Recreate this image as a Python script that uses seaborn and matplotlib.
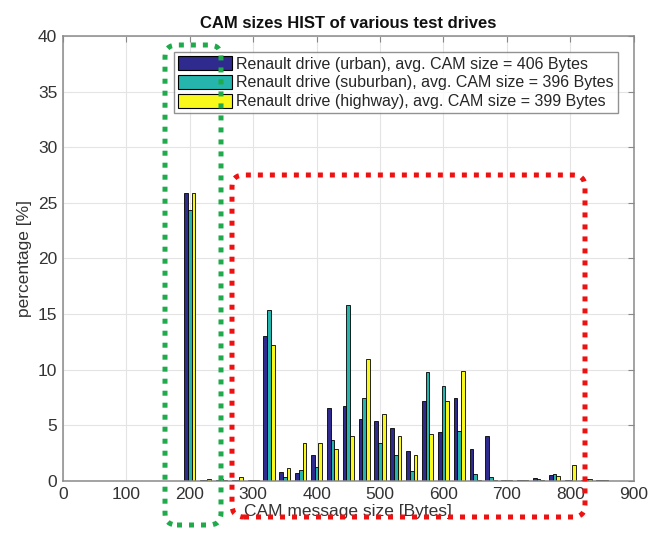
import matplotlib
matplotlib.use("Agg")
import matplotlib.pyplot as plt
import matplotlib.patches as mpatches
from matplotlib.transforms import IdentityTransform
import pandas as pd
import seaborn as sns

# CAM size bins (Bytes) and share of messages per bin (%)
cam_sizes = [200, 225, 250, 275, 300, 325, 350, 375, 400, 425, 450, 475, 500, 525,
             550, 575, 600, 625, 650, 675, 700, 725, 750, 775, 800, 825, 850]
urban = [25.9, 0.1, 0.05, 0.05, 0.1, 13.0, 0.8, 0.7, 2.3, 6.55, 6.7, 5.55, 5.4, 4.8,
         2.7, 7.2, 4.4, 7.45, 2.9, 4.0, 0.05, 0.1, 0.3, 0.55, 0.1, 0.1, 0.05]
suburban = [24.4, 0.1, 0.15, 0.1, 0.05, 15.4, 0.4, 1.0, 1.3, 3.7, 15.85, 7.5, 3.45, 2.3,
            0.9, 9.8, 8.55, 4.45, 0.6, 0.4, 0.05, 0.05, 0.15, 0.6, 0.1, 0.15, 0.05]
highway = [25.9, 0.15, 0.1, 0.35, 0.1, 12.25, 1.2, 3.45, 3.45, 2.85, 4.05, 10.95, 6.0, 4.0,
           2.3, 4.2, 7.2, 9.9, 0.1, 0.05, 0.05, 0.1, 0.1, 0.45, 1.45, 0.2, 0.05]
drive_labels = ['Renault drive (urban), avg. CAM size = 406 Bytes',
                'Renault drive (suburban), avg. CAM size = 396 Bytes',
                'Renault drive (highway), avg. CAM size = 399 Bytes']
bar_colors = ['#2e2a8e', '#25b5ad', '#f8f81a']

rows = []
for label, values in zip(drive_labels, [urban, suburban, highway]):
    for size, pct in zip(cam_sizes, values):
        rows.append({'size': size, 'pct': pct, 'drive': label})
df = pd.DataFrame(rows)

sns.set_style("whitegrid")
plt.rcParams['font.family'] = ['Liberation Sans', 'DejaVu Sans']

fig = plt.figure(figsize=(6.48, 5.33), dpi=100)
ax = fig.add_axes([0.097, 0.0976, 0.881, 0.8349])

sns.barplot(data=df, x='size', y='pct', hue='drive', native_scale=True,
            width=0.7, palette=bar_colors, saturation=1, edgecolor='black',
            linewidth=0.6, errorbar=None, ax=ax)

ax.set_xlim(0, 900)
ax.set_ylim(0, 40)
ax.set_xticks(range(0, 901, 100))
ax.set_yticks(range(0, 41, 5))
ax.grid(True, color='#e4e4e4', linewidth=0.8)
ax.set_axisbelow(True)
ax.tick_params(direction='in', top=True, right=True, length=4, color='#888888',
               labelsize=12.5, labelcolor='#333333', pad=4)
for sp in ax.spines.values():
    sp.set_color('#8a8a8a')
    sp.set_linewidth(1.1)

ax.set_xlabel('CAM message size [Bytes]', fontsize=12.5, color='#333333', labelpad=2)
ax.set_ylabel('percentage [%]', fontsize=12.5, color='#333333', labelpad=4)
ax.set_title('CAM sizes HIST of various test drives', fontsize=12, fontweight='bold',
             color='#111111', pad=6)

old = ax.get_legend()
handles = old.legend_handles
labels = [t.get_text() for t in old.get_texts()]
old.remove()
leg = ax.legend(handles, labels, loc='upper right', fontsize=11.5, frameon=True,
                fancybox=False, edgecolor='#777777', handlelength=3.4,
                handleheight=1.0, handletextpad=0.25, labelspacing=0.2,
                borderaxespad=1.0, borderpad=0.25)
leg.get_frame().set_linewidth(1.0)
for h in leg.legend_handles:
    h.set_edgecolor('black')
    h.set_linewidth(0.8)

# dotted highlight boxes (pixel coordinates, image origin at top)
H = 533
def dotted_box(x0, y0, x1, y1, color):
    box = mpatches.FancyBboxPatch((x0, H - y1), x1 - x0, y1 - y0,
                                  boxstyle='round,pad=0,rounding_size=12',
                                  transform=IdentityTransform(), fill=False,
                                  edgecolor=color, linewidth=3.6,
                                  linestyle=(0, (1, 1.4)), capstyle='butt')
    fig.add_artist(box)

dotted_box(165, 45, 221, 525, '#1faa4c')
dotted_box(232, 175, 585, 517, '#ee1111')

fig.savefig('out.png', dpi=100)
